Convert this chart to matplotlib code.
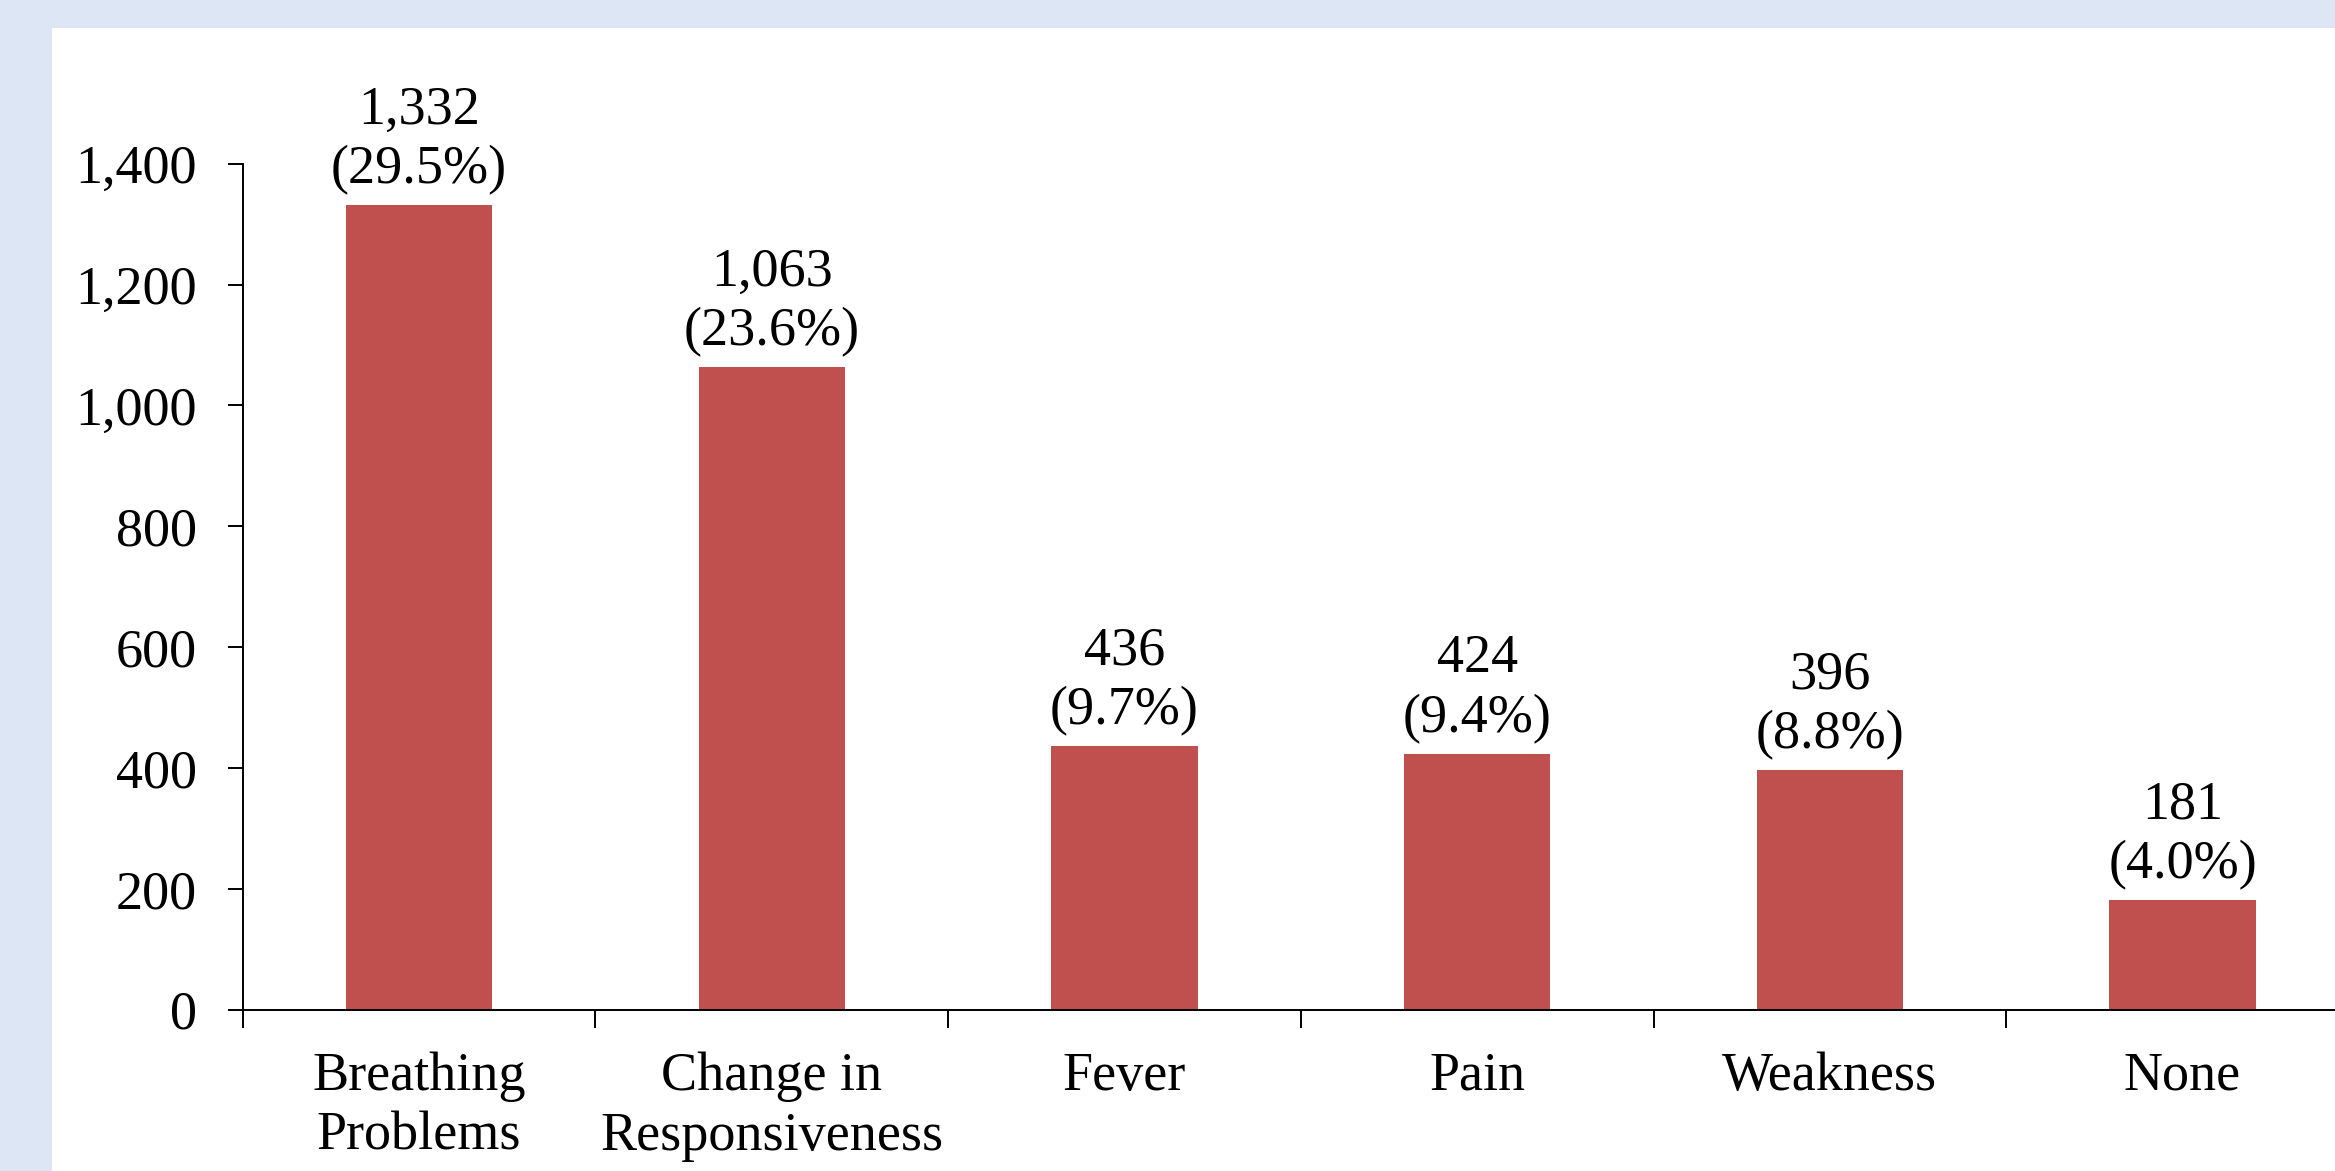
import matplotlib
matplotlib.use("Agg")
import matplotlib.pyplot as plt
from matplotlib.patches import Rectangle
from matplotlib.ticker import FuncFormatter, FixedLocator
import numpy as np

categories = ["Breathing\nProblems", "Change in\nResponsiveness", "Fever", "Pain", "Weakness", "None"]
counts = [1332, 1063, 436, 424, 396, 181]
percents = [29.5, 23.6, 9.7, 9.4, 8.8, 4.0]
yticks = [0, 200, 400, 600, 800, 1000, 1200, 1400]

plt.rcParams['font.family'] = ['Liberation Serif', 'DejaVu Serif']

W, H = 2335, 1171
fig = plt.figure(figsize=(W / 100, H / 100), dpi=100, facecolor='#dce6f5')
bg = fig.add_axes([52 / W, 0, 1 - 52 / W, 1 - 28 / H], zorder=-5)
bg.set_facecolor('white')
bg.set_axis_off()
bg.add_patch(Rectangle((0, 0), 1, 1, transform=bg.transAxes, facecolor='white', edgecolor='none'))

ax = fig.add_axes([242.7 / W, 161.3 / H, 6 * 352.7 / W, (1009.7 - 163.8) / H], zorder=1)
ax.set_facecolor('none')
x = np.arange(len(categories))
ax.bar(x, counts, width=0.415, color='#c0504d', zorder=2)

for xi, c, p in zip(x, counts, percents):
    ax.annotate(f"{c:,}\n({p:.1f}%)", (xi, c), xytext=(0, 7), textcoords='offset points',
                ha='center', va='bottom', fontsize=39, linespacing=1.24)

ax.set_xlim(-0.5, len(categories) - 0.5)
ax.set_ylim(0, 1400)
ax.set_yticks(yticks)
ax.yaxis.set_major_formatter(FuncFormatter(lambda v, _: f"{int(v):,}"))
ax.set_xticks(x)
ax.set_xticklabels(categories, linespacing=1.24)
ax.xaxis.set_minor_locator(FixedLocator(np.arange(len(categories) + 1) - 0.5))

for s in ['top', 'right']:
    ax.spines[s].set_visible(False)
for s in ['left', 'bottom']:
    ax.spines[s].set_linewidth(1.4)
    ax.spines[s].set_color('black')

ax.tick_params(axis='y', direction='out', length=11, width=1.4, pad=22, labelsize=39)
ax.tick_params(axis='x', which='major', length=0, pad=30, labelsize=39)
ax.tick_params(axis='x', which='minor', direction='out', length=13, width=1.4)

fig.savefig("out.png", dpi=100, facecolor=fig.get_facecolor())
